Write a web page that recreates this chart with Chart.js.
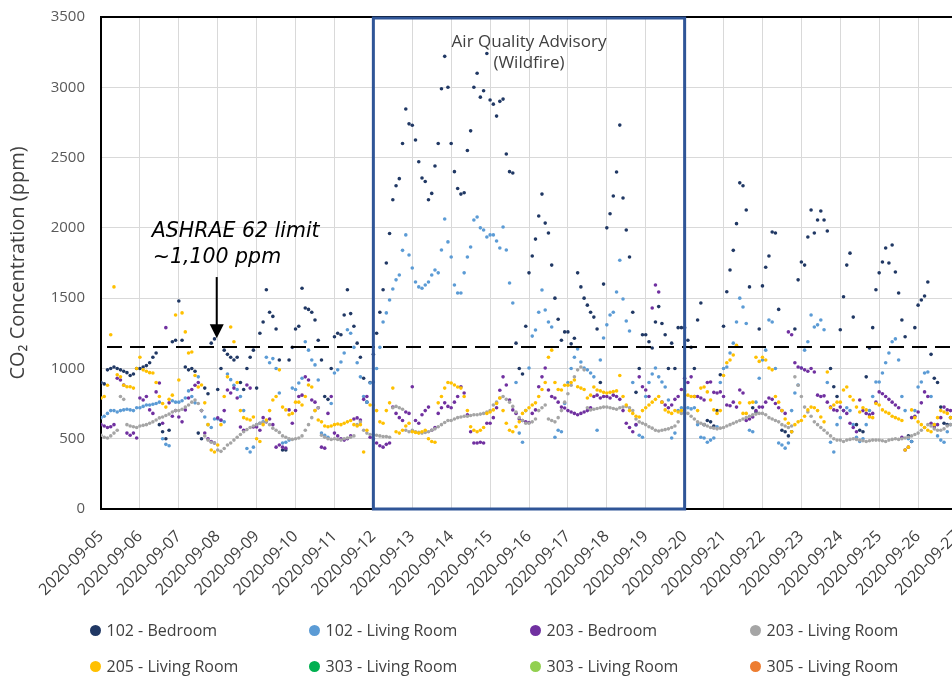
<!DOCTYPE html>
<html>
<head>
<meta charset="utf-8">
<script src="https://cdn.jsdelivr.net/npm/chart.js@4/dist/chart.umd.min.js"></script>
<style>
  html, body { margin: 0; padding: 0; background: #fff; overflow: hidden; }
  #wrap { position: relative; width: 980px; height: 680px; }
  #legend .item { position: absolute; display: flex; align-items: center; height: 22px;
    font: 16px 'Open Sans', sans-serif; color: #404040; white-space: nowrap; }
  #legend .dot { width: 11px; height: 11px; border-radius: 50%; margin-right: 6px; }
</style>
</head>
<body>
<div id="wrap">
  <canvas id="co2" width="980" height="680"></canvas>
  <div id="legend"></div>
</div>
<script>
// readings every 2 hours starting 2020-09-05 00:00, one row per day
const stepHours = 2;

const dateLabels = ['2020-09-05', '2020-09-06', '2020-09-07', '2020-09-08', '2020-09-09', '2020-09-10',
  '2020-09-11', '2020-09-12', '2020-09-13', '2020-09-14', '2020-09-15', '2020-09-16', '2020-09-17',
  '2020-09-18', '2020-09-19', '2020-09-20', '2020-09-21', '2020-09-22', '2020-09-23', '2020-09-24',
  '2020-09-25', '2020-09-26', '2020-09-27'];

const seriesNames = ['102 - Bedroom', '102 - Living Room', '203 - Bedroom', '203 - Living Room',
  '205 - Living Room', '303 - Living Room', '303 - Living Room', '305 - Living Room'];
const seriesColors = ['#203864', '#5B9BD5', '#7030A0', '#A5A5A5', '#FFC000', '#00B050', '#92D050', '#ED7D31'];

const bedroom102 = [
  900, 890, 990, 1000, 1010, 1000, 990, 980, 970, 950, 960, 1000,
  1000, 1010, 1020, 1040, 1080, 1110, 600, 550, 500, 560, 1190, 1200,
  1480, 1200, 1010, 990, 1000, 980, 540, 500, 860, 820, 1180, 1210,
  850, 1000, 1130, 1100, 1080, 1060, 1080, 900, 850, 1000, 1080, 1130,
  860, 1250, 1330, 1560, 1400, 1370, 1280, 1060, 420, 420, 1060, 1150,
  1280, 1300, 1570, 1430, 1420, 1400, 1345, 1200, 1060, 800, 780, 1000,
  1225, 1250, 1240, 1380, 1560, 1390, 1300, 1180, 1080, 930, 760, 900,
  1100, 1250, 1400, 1560, 1750, 1960, 2200, 2300, 2350, 2600, 2845, 2740,
  2730, 2625, 2470, 2355, 2330, 2200, 2245, 2440, 2600, 2990, 3220, 3000,
  2600, 2400, 2280, 2240, 2250, 2550, 2690, 3000, 3100, 2930, 2975, 3240,
  2910, 2880, 2795, 2900, 2916, 2525, 2400, 2390, 1180, 1000, 960, 1300,
  1680, 1800, 1920, 2084, 2240, 2034, 1963, 1735, 1500, 1350, 1200, 1260,
  1260, 1175, 1215, 1680, 1580, 1500, 1450, 1400, 1365, 1280, 900, 1600,
  2000, 2100, 2227, 2397, 2731, 2212, 1985, 1793, 1400, 830, 1000, 1240,
  1240, 1190, 1145, 1330, 1440, 1320, 1240, 1000, 1180, 1000, 1290, 1290,
  1290, 1200, 1150, 1000, 1345, 1465, 600, 630, 620, 590, 700, 955,
  1300, 1545, 1700, 1840, 2030, 2320, 2300, 2127, 1580, 720, 690, 1280,
  1587, 1720, 1800, 1970, 1963, 1420, 560, 550, 520, 550, 1280, 1630,
  1757, 1735, 1935, 2127, 1963, 2056, 2120, 2056, 1978, 1000, 870, 800,
  1275, 1510, 1735, 1820, 1365, 600, 560, 550, 940, 1145, 1290, 1560,
  1680, 1757, 1857, 1750, 1878, 1686, 1537, 1345, 1225, 520, 480, 1290,
  1450, 1487, 1515, 1615, 1100, 930, 900, 725, 610, 600, 650, 700
];

const livingRoom102 = [
  650, 660, 680, 700, 700, 690, 700, 705, 710, 705, 700, 720,
  720, 730, 740, 740, 745, 750, 760, 500, 460, 450, 770, 760,
  760, 770, 790, 840, 800, 755, 940, 700, 655, 600, 580, 640,
  640, 630, 620, 960, 920, 880, 850, 800, 700, 430, 405, 440,
  600, 610, 620, 1080, 1040, 1070, 1000, 825, 470, 475, 490, 860,
  850, 896, 930, 1190, 1130, 1060, 1025, 918, 540, 525, 510, 750,
  967, 990, 1046, 1110, 1275, 1250, 1150, 1040, 940, 800, 760, 896,
  903, 1000, 1150, 1330, 1395, 1487, 1565, 1630, 1665, 1840, 1950, 1807,
  1714, 1615, 1580, 1570, 1594, 1615, 1665, 1700, 1680, 1842, 2063, 1900,
  1793, 1594, 1537, 1537, 1680, 1793, 1864, 2056, 2077, 2000, 1985, 1935,
  1950, 1950, 1907, 1857, 2006, 1842, 1608, 1465, 900, 540, 475, 700,
  1003, 1230, 1273, 1400, 1558, 1416, 1330, 1295, 510, 560, 550, 750,
  900, 1000, 1080, 1138, 1046, 1003, 990, 967, 940, 560, 1060, 1216,
  1310, 1380, 1400, 1544, 1770, 1494, 1337, 1266, 900, 598, 525, 510,
  800, 900, 960, 1003, 940, 903, 868, 775, 505, 540, 700, 720,
  705, 720, 712, 720, 600, 510, 505, 475, 490, 505, 585, 900,
  1000, 1010, 1110, 1180, 1330, 1500, 1437, 1320, 560, 550, 760, 930,
  1060, 1130, 1345, 1330, 1000, 470, 455, 433, 470, 700, 825, 882,
  1003, 1130, 1190, 1380, 1295, 1310, 1345, 1275, 900, 475, 405, 600,
  650, 700, 720, 700, 600, 510, 480, 500, 600, 700, 800, 903,
  903, 967, 1040, 1110, 1190, 1210, 1060, 800, 700, 500, 480, 700,
  868, 903, 967, 975, 800, 600, 520, 490, 475, 550, 600, 650
];

const bedroom203 = [
  600, 590, 580, 585, 600, 930, 918, 882, 540, 525, 540, 505,
  790, 775, 800, 705, 680, 833, 896, 610, 1290, 755, 660, 700,
  655, 620, 705, 790, 850, 880, 900, 700, 540, 500, 480, 470,
  648, 633, 700, 847, 825, 860, 790, 583, 560, 882, 860, 583,
  583, 560, 650, 620, 640, 600, 440, 455, 440, 433, 705, 610,
  700, 800, 810, 940, 918, 775, 760, 720, 440, 433, 680, 800,
  540, 520, 500, 490, 500, 520, 640, 648, 633, 780, 800, 510,
  500, 470, 450, 440, 460, 470, 725, 680, 650, 630, 690, 680,
  870, 630, 610, 670, 700, 725, 560, 580, 680, 720, 755, 730,
  720, 760, 800, 870, 825, 670, 550, 470, 470, 475, 470, 610,
  610, 650, 720, 845, 940, 882, 775, 705, 680, 640, 630, 620,
  615, 680, 705, 870, 940, 1003, 847, 800, 790, 760, 725, 718,
  700, 690, 680, 670, 680, 690, 700, 720, 800, 810, 790, 800,
  800, 790, 810, 800, 780, 700, 610, 580, 550, 600, 940, 870,
  847, 800, 1430, 1594, 1544, 760, 740, 720, 740, 780, 800, 850,
  930, 900, 940, 800, 800, 790, 775, 900, 903, 830, 825, 833,
  800, 740, 735, 760, 725, 847, 825, 630, 640, 655, 700, 725,
  725, 760, 790, 780, 750, 720, 700, 680, 1260, 1240, 1040, 1010,
  1003, 990, 980, 1000, 975, 810, 800, 805, 760, 725, 705, 700,
  725, 700, 680, 610, 580, 550, 775, 700, 680, 670, 680, 760,
  833, 820, 800, 780, 760, 740, 720, 510, 420, 440, 650, 660,
  690, 755, 833, 800, 610, 583, 600, 650, 725, 705, 700, 690
];

const livingRoom203 = [
  525, 510, 505, 520, 540, 560, 800, 780, 600, 590, 585, 580,
  590, 595, 600, 610, 620, 633, 648, 655, 665, 675, 690, 700,
  700, 710, 725, 740, 760, 775, 750, 700, 520, 490, 475, 470,
  420, 410, 430, 455, 470, 490, 510, 530, 550, 565, 580, 590,
  600, 610, 615, 620, 600, 575, 560, 545, 520, 510, 500, 495,
  500, 505, 520, 560, 600, 650, 700, 720, 525, 510, 500, 495,
  500, 495, 490, 500, 505, 510, 520, 600, 620, 560, 540, 530,
  530, 525, 520, 515, 515, 510, 720, 730, 720, 710, 560, 550,
  560, 550, 545, 540, 545, 550, 560, 570, 585, 600, 615, 630,
  630, 640, 650, 655, 660, 660, 665, 670, 670, 675, 680, 690,
  700, 740, 760, 790, 800, 780, 760, 730, 690, 650, 630, 610,
  610, 620, 640, 700, 720, 740, 640, 630, 620, 650, 700, 760,
  820, 880, 940, 990, 1010, 990, 720, 705, 710, 715, 720, 725,
  725, 720, 715, 710, 720, 725, 730, 720, 700, 640, 620, 610,
  600, 585, 575, 560, 555, 560, 565, 570, 580, 590, 620, 680,
  690, 680, 660, 640, 620, 610, 600, 590, 580, 575, 570, 575,
  580, 590, 600, 610, 620, 630, 640, 650, 660, 670, 675, 680,
  680, 670, 650, 640, 630, 620, 600, 590, 580, 590, 940, 880,
  800, 725, 690, 660, 620, 600, 580, 560, 540, 520, 500, 490,
  490, 480, 490, 495, 500, 495, 490, 485, 480, 485, 490, 490,
  490, 485, 480, 490, 495, 500, 495, 500, 505, 510, 520, 530,
  540, 560, 580, 600, 590, 570, 560, 560, 570, 590, 600, 610
];

const livingRoom205 = [
  790, 800, 880, 1240, 1580, 955, 940, 880, 870, 870, 860, 1000,
  1080, 990, 980, 970, 967, 900, 800, 750, 725, 780, 810, 1380,
  918, 1395, 1260, 1110, 1117, 950, 868, 882, 755, 600, 420, 405,
  455, 600, 800, 940, 1295, 1190, 900, 700, 650, 640, 633, 655,
  500, 480, 600, 633, 700, 775, 800, 990, 725, 705, 670, 680,
  760, 760, 740, 800, 882, 868, 700, 633, 620, 590, 585, 590,
  600, 605, 600, 610, 620, 630, 600, 590, 600, 405, 560, 740,
  740, 700, 620, 610, 700, 755, 860, 550, 540, 560, 590, 610,
  550, 545, 540, 550, 560, 500, 480, 475, 755, 800, 860, 900,
  896, 882, 868, 860, 800, 700, 585, 560, 550, 560, 580, 680,
  690, 705, 750, 790, 700, 610, 560, 550, 585, 620, 680, 700,
  720, 740, 755, 800, 850, 900, 1080, 1130, 900, 850, 847, 880,
  880, 900, 918, 870, 860, 850, 790, 810, 868, 847, 840, 830,
  825, 830, 835, 840, 950, 800, 740, 700, 680, 660, 655, 700,
  720, 740, 760, 780, 800, 760, 705, 690, 680, 700, 690, 700,
  840, 810, 800, 800, 700, 860, 868, 833, 775, 705, 680, 700,
  950, 1040, 1060, 1095, 1165, 755, 680, 680, 755, 760, 1080, 1050,
  1080, 1060, 1003, 990, 800, 760, 700, 640, 610, 550, 600, 620,
  630, 660, 705, 725, 720, 700, 655, 620, 975, 720, 740, 760,
  760, 847, 868, 800, 775, 725, 690, 720, 705, 655, 650, 750,
  740, 705, 690, 680, 660, 650, 640, 630, 420, 440, 705, 650,
  620, 600, 580, 560, 550, 600, 650, 700, 690, 680, 650, 640
];

// no readings plotted for these units
const livingRoom303a = [];
const livingRoom303b = [];
const livingRoom305 = [];

const seriesValues = [bedroom102, livingRoom102, bedroom203, livingRoom203,
  livingRoom205, livingRoom303a, livingRoom303b, livingRoom305];

const ashraeLimit = 1150;
const advisoryStart = 7;   // 2020-09-12
const advisoryEnd = 15;    // 2020-09-20

function toPoints(values) {
  return values.map((v, i) => ({ x: i * stepHours / 24, y: v }));
}

Chart.defaults.font.family = "'Open Sans', sans-serif";

const annotations = {
  id: 'annotations',
  afterDatasetsDraw(chart) {
    const { ctx, chartArea: a, scales: { x, y } } = chart;
    ctx.save();

    // frame top edge
    ctx.strokeStyle = '#000';
    ctx.lineWidth = 2;
    ctx.beginPath();
    ctx.moveTo(a.left, a.top);
    ctx.lineTo(a.right, a.top);
    ctx.stroke();

    // ASHRAE 62 limit line
    const ly = Math.round(y.getPixelForValue(ashraeLimit));
    ctx.setLineDash([15, 8]);
    ctx.beginPath();
    ctx.moveTo(a.left + 6, ly);
    ctx.lineTo(a.right, ly);
    ctx.stroke();
    ctx.setLineDash([]);

    // arrow pointing at the limit
    const ax = x.getPixelForValue(3) - 1;
    const ay0 = y.getPixelForValue(1650);
    const ay1 = y.getPixelForValue(1215);
    ctx.beginPath();
    ctx.moveTo(ax, ay0);
    ctx.lineTo(ax, ay1 - 12);
    ctx.stroke();
    ctx.fillStyle = '#000';
    ctx.beginPath();
    ctx.moveTo(ax - 7, ay1 - 14);
    ctx.lineTo(ax + 7, ay1 - 14);
    ctx.lineTo(ax, ay1);
    ctx.closePath();
    ctx.fill();

    ctx.font = "italic 20.5px 'DejaVu Sans'";
    ctx.textAlign = 'left';
    ctx.textBaseline = 'alphabetic';
    ctx.fillText('ASHRAE 62 limit', ax - 65, ay0 - 40);
    ctx.fillText('~1,100 ppm', ax - 64, ay0 - 14);

    // wildfire advisory window
    const bx0 = x.getPixelForValue(advisoryStart);
    const bx1 = x.getPixelForValue(advisoryEnd);
    ctx.strokeStyle = '#2F5597';
    ctx.lineWidth = 3;
    ctx.strokeRect(bx0, a.top + 1, bx1 - bx0, a.bottom - a.top - 1);
    ctx.fillStyle = '#404040';
    ctx.font = "17px 'Open Sans'";
    ctx.textAlign = 'center';
    ctx.textBaseline = 'middle';
    ctx.fillText('Air Quality Advisory', (bx0 + bx1) / 2, a.top + 25);
    ctx.fillText('(Wildfire)', (bx0 + bx1) / 2, a.top + 46);

    ctx.restore();
  }
};

new Chart(document.getElementById('co2'), {
  type: 'scatter',
  data: {
    datasets: seriesNames.map((name, i) => ({
      label: name,
      data: toPoints(seriesValues[i]),
      backgroundColor: seriesColors[i],
      borderWidth: 0,
      pointRadius: 1.8,
      order: seriesNames.length - i
    }))
  },
  options: {
    responsive: false,
    animation: false,
    layout: { padding: { top: 17, right: 23, left: 0, bottom: 0 } },
    plugins: { legend: { display: false }, tooltip: { enabled: false } },
    scales: {
      x: {
        type: 'linear',
        min: 0,
        max: 22,
        afterFit(scale) { scale.height = 171; },
        // invisible tick marks keep the labels clear of the axis
        grid: { color: '#D9D9D9', tickLength: 18, tickColor: 'rgba(0,0,0,0)' },
        border: { color: '#000', width: 2 },
        ticks: {
          stepSize: 1,
          autoSkip: false,
          minRotation: 45,
          maxRotation: 45,
          padding: 0,
          color: '#404040',
          font: { size: 16 },
          callback: v => dateLabels[v]
        }
      },
      y: {
        min: 0,
        max: 3500,
        afterFit(scale) { scale.width = 101; },
        grid: { color: '#D9D9D9', tickLength: 16, tickColor: 'rgba(0,0,0,0)' },
        border: { color: '#000', width: 2 },
        ticks: { stepSize: 500, padding: 0, color: '#595959', font: { size: 15 },
          callback: v => String(v) },
        title: {
          display: true,
          text: 'CO₂ Concentration (ppm)',
          color: '#404040',
          font: { size: 20 },
          padding: { top: 6, bottom: 0 }
        }
      }
    }
  },
  plugins: [annotations]
});

// two-row legend under the axis
const legendCols = [95, 314, 535, 755];
const legendRows = [630, 666];
const legend = document.getElementById('legend');
seriesNames.forEach((name, i) => {
  const item = document.createElement('div');
  item.className = 'item';
  item.style.left = (legendCols[i % 4] - 5.5) + 'px';
  item.style.top = (legendRows[Math.floor(i / 4)] - 11) + 'px';
  item.innerHTML = '<span class="dot" style="background:' + seriesColors[i] + '"></span>' + name;
  legend.appendChild(item);
});
</script>
</body>
</html>
